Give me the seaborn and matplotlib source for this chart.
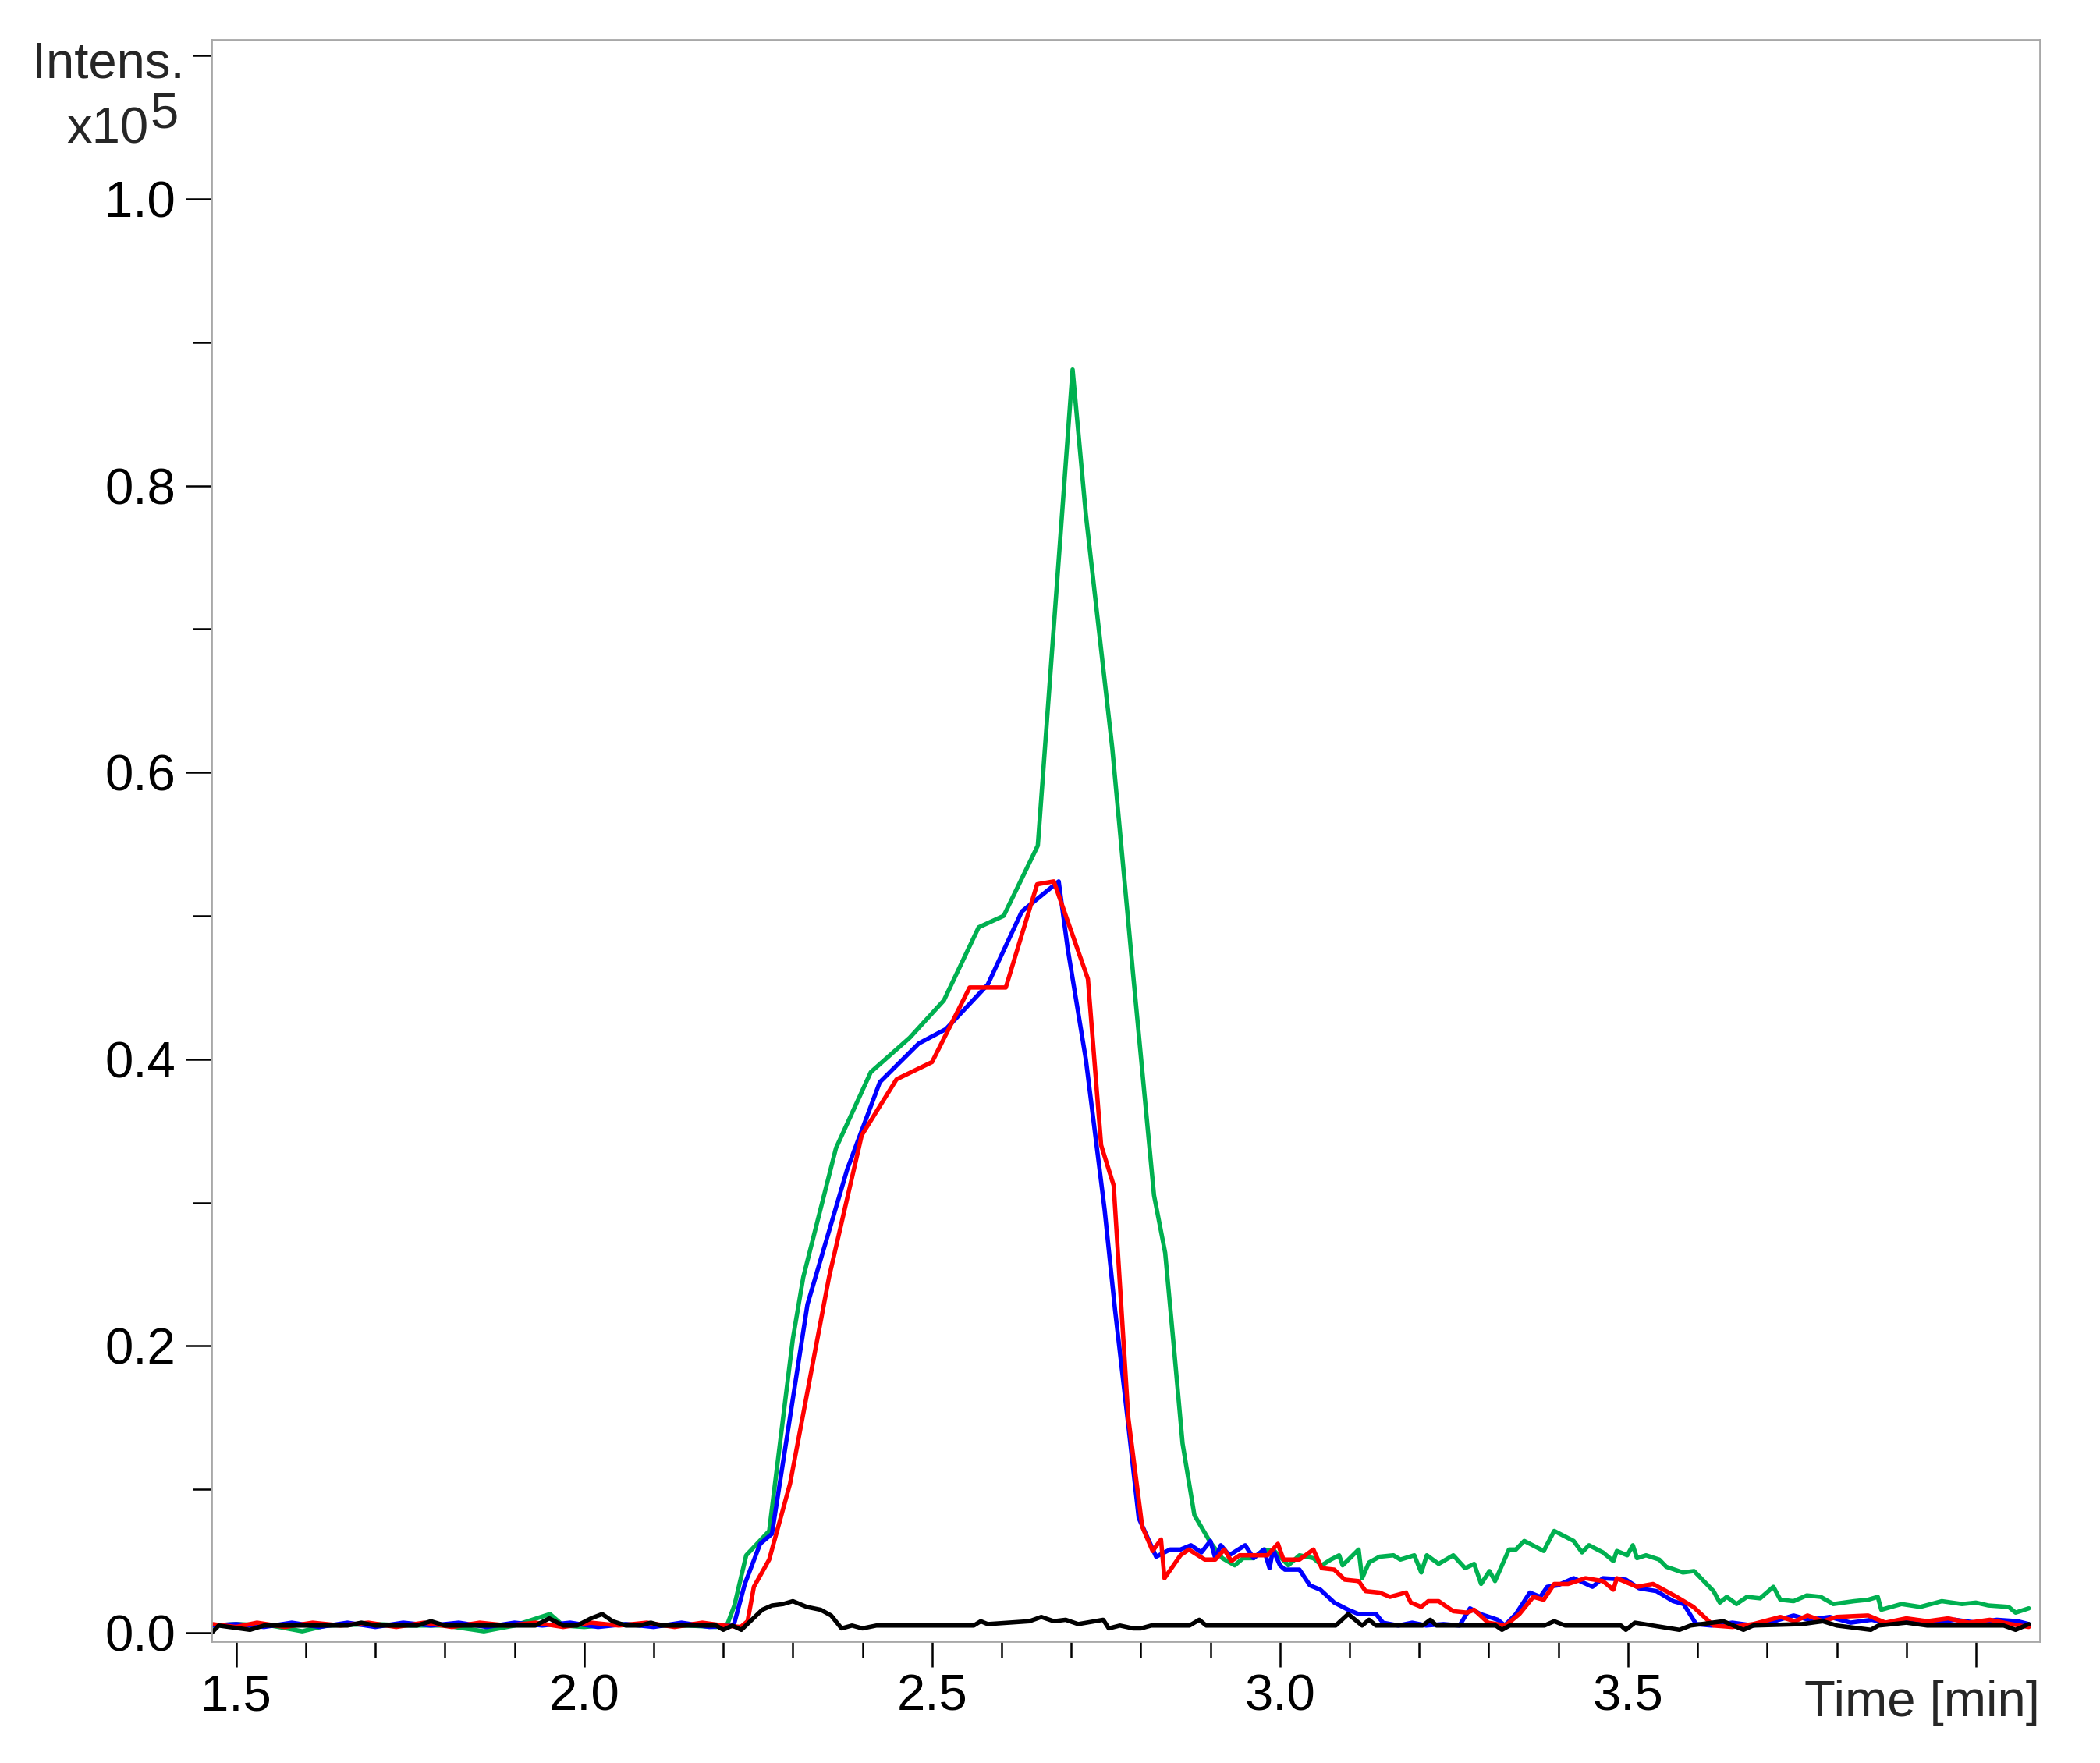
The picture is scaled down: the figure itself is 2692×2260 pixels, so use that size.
import numpy as np
import pandas as pd
import seaborn as sns
import matplotlib.pyplot as plt
from matplotlib.ticker import MultipleLocator

# Extracted ion chromatograms, intensity in units of 1e5, time in min
green_t = [1.465, 1.50, 1.55, 1.595, 1.63, 1.70, 1.75, 1.80, 1.856, 1.90, 1.951, 1.97, 2.00, 2.05, 2.10,
           2.15, 2.19, 2.206, 2.216, 2.233, 2.266, 2.300, 2.315, 2.362, 2.412, 2.468, 2.517, 2.567, 2.603,
           2.652, 2.702, 2.721, 2.759, 2.789, 2.819, 2.835, 2.847, 2.86, 2.877, 2.90, 2.917, 2.935, 2.947,
           2.962, 2.977, 2.992, 3.012, 3.028, 3.048, 3.06, 3.073, 3.085, 3.09, 3.113, 3.118, 3.128, 3.143,
           3.163, 3.173, 3.193, 3.203, 3.211, 3.228, 3.249, 3.266, 3.279, 3.289, 3.301, 3.309, 3.329, 3.339,
           3.351, 3.379, 3.394, 3.422, 3.434, 3.444, 3.464, 3.479, 3.484, 3.499, 3.507, 3.513, 3.526, 3.545,
           3.555, 3.579, 3.595, 3.623, 3.632, 3.642, 3.656, 3.671, 3.690, 3.709, 3.719, 3.738, 3.757, 3.777,
           3.795, 3.825, 3.845, 3.859, 3.864, 3.893, 3.92, 3.951, 3.98, 4.00, 4.018, 4.047, 4.057, 4.076]
green_v = [0.005, 0.006, 0.005, 0.001, 0.005, 0.006, 0.005, 0.005, 0.001, 0.005, 0.013, 0.005, 0.004, 0.006, 0.005,
           0.005, 0.004, 0.006, 0.019, 0.054, 0.071, 0.205, 0.248, 0.338, 0.391, 0.415, 0.441, 0.492, 0.500,
           0.549, 0.881, 0.780, 0.617, 0.459, 0.305, 0.265, 0.202, 0.132, 0.082, 0.063, 0.052, 0.047, 0.052,
           0.052, 0.058, 0.057, 0.047, 0.054, 0.052, 0.047, 0.051, 0.054, 0.047, 0.058, 0.038, 0.049, 0.053,
           0.054, 0.051, 0.054, 0.042, 0.054, 0.048, 0.054, 0.045, 0.048, 0.034, 0.043, 0.036, 0.058, 0.058,
           0.064, 0.057, 0.071, 0.064, 0.056, 0.061, 0.056, 0.050, 0.057, 0.054, 0.061, 0.052, 0.054, 0.051,
           0.046, 0.042, 0.043, 0.029, 0.021, 0.025, 0.020, 0.025, 0.024, 0.032, 0.023, 0.022, 0.026, 0.025,
           0.020, 0.022, 0.023, 0.025, 0.016, 0.020, 0.018, 0.022, 0.020, 0.021, 0.019, 0.018, 0.014, 0.017]

blue_t = [1.465, 1.50, 1.54, 1.58, 1.62, 1.66, 1.70, 1.74, 1.78, 1.82, 1.86, 1.90, 1.94, 1.98, 2.02, 2.06,
          2.10, 2.14, 2.18, 2.215, 2.231, 2.253, 2.270, 2.321, 2.378, 2.425, 2.481, 2.520, 2.580, 2.629,
          2.682, 2.695, 2.721, 2.748, 2.763, 2.782, 2.797, 2.822, 2.842, 2.857, 2.872, 2.887, 2.90, 2.907,
          2.915, 2.927, 2.95, 2.962, 2.977, 2.985, 2.99, 3.0, 3.007, 3.028, 3.043, 3.058, 3.078, 3.098,
          3.113, 3.138, 3.148, 3.17, 3.19, 3.21, 3.235, 3.258, 3.273, 3.288, 3.313, 3.323, 3.339, 3.359,
          3.374, 3.384, 3.399, 3.422, 3.449, 3.464, 3.497, 3.516, 3.541, 3.565, 3.580, 3.598, 3.62, 3.65,
          3.68, 3.71, 3.738, 3.76, 3.79, 3.82, 3.85, 3.88, 3.91, 3.94, 3.97, 4.00, 4.03, 4.06, 4.076]
blue_v = [0.005, 0.006, 0.004, 0.007, 0.004, 0.007, 0.004, 0.007, 0.005, 0.007, 0.004, 0.007, 0.005, 0.007, 0.004, 0.006,
          0.004, 0.007, 0.004, 0.005, 0.034, 0.062, 0.069, 0.229, 0.323, 0.384, 0.411, 0.421, 0.452, 0.503,
          0.524, 0.477, 0.400, 0.295, 0.225, 0.145, 0.080, 0.053, 0.058, 0.058, 0.061, 0.056, 0.064, 0.052,
          0.061, 0.054, 0.061, 0.052, 0.058, 0.045, 0.058, 0.047, 0.044, 0.044, 0.033, 0.030, 0.021, 0.016,
          0.013, 0.013, 0.007, 0.005, 0.007, 0.005, 0.006, 0.005, 0.017, 0.013, 0.009, 0.005, 0.013, 0.028,
          0.025, 0.032, 0.033, 0.038, 0.032, 0.038, 0.037, 0.031, 0.029, 0.022, 0.020, 0.006, 0.005, 0.007,
          0.005, 0.008, 0.012, 0.009, 0.011, 0.007, 0.009, 0.006, 0.009, 0.007, 0.009, 0.007, 0.009, 0.008, 0.006]

red_t = [1.465, 1.50, 1.53, 1.57, 1.61, 1.65, 1.69, 1.73, 1.77, 1.81, 1.85, 1.89, 1.93, 1.97, 2.01, 2.05,
         2.09, 2.13, 2.17, 2.20, 2.225, 2.235, 2.244, 2.266, 2.296, 2.352, 2.399, 2.449, 2.500, 2.554, 2.606,
         2.651, 2.675, 2.724, 2.743, 2.761, 2.782, 2.802, 2.817, 2.829, 2.834, 2.847, 2.857, 2.869, 2.892,
         2.907, 2.92, 2.93, 2.942, 2.982, 2.997, 3.005, 3.028, 3.048, 3.06, 3.078, 3.093, 3.113, 3.123,
         3.143, 3.158, 3.181, 3.188, 3.203, 3.213, 3.228, 3.249, 3.269, 3.279, 3.299, 3.324, 3.344, 3.364,
         3.379, 3.394, 3.414, 3.439, 3.464, 3.479, 3.484, 3.513, 3.536, 3.57, 3.594, 3.623, 3.65, 3.68,
         3.719, 3.74, 3.758, 3.78, 3.80, 3.845, 3.87, 3.90, 3.93, 3.96, 3.99, 4.02, 4.05, 4.076]
red_v = [0.006, 0.004, 0.007, 0.004, 0.007, 0.005, 0.007, 0.004, 0.007, 0.004, 0.007, 0.005, 0.007, 0.004, 0.007, 0.005,
         0.007, 0.004, 0.007, 0.005, 0.004, 0.008, 0.032, 0.051, 0.104, 0.248, 0.347, 0.386, 0.398, 0.450, 0.450,
         0.522, 0.524, 0.456, 0.340, 0.312, 0.150, 0.074, 0.057, 0.065, 0.038, 0.047, 0.054, 0.058, 0.051,
         0.051, 0.058, 0.050, 0.054, 0.054, 0.062, 0.051, 0.051, 0.058, 0.045, 0.044, 0.037, 0.036, 0.029,
         0.028, 0.025, 0.028, 0.021, 0.018, 0.022, 0.022, 0.015, 0.014, 0.016, 0.007, 0.005, 0.013, 0.025,
         0.023, 0.034, 0.034, 0.038, 0.036, 0.030, 0.038, 0.032, 0.034, 0.025, 0.018, 0.005, 0.004, 0.006,
         0.011, 0.008, 0.012, 0.008, 0.011, 0.012, 0.007, 0.010, 0.008, 0.010, 0.007, 0.009, 0.006, 0.004]

black_t = [1.465, 1.475, 1.52, 1.54, 1.66, 1.68, 1.70, 1.76, 1.78, 1.80, 1.93, 1.95, 1.97, 1.99, 2.01, 2.026,
           2.041, 2.06, 2.08, 2.096, 2.11, 2.19, 2.20, 2.213, 2.226, 2.256, 2.27, 2.286, 2.30, 2.32, 2.34,
           2.355, 2.37, 2.385, 2.40, 2.42, 2.56, 2.57, 2.58, 2.64, 2.657, 2.675, 2.692, 2.71, 2.746, 2.754,
           2.77, 2.789, 2.80, 2.815, 2.87, 2.884, 2.894, 3.08, 3.098, 3.118, 3.128, 3.138, 3.205, 3.216,
           3.225, 3.31, 3.319, 3.33, 3.38, 3.394, 3.41, 3.49, 3.497, 3.51, 3.574, 3.59, 3.637, 3.666, 3.68,
           3.75, 3.78, 3.80, 3.849, 3.86, 3.90, 3.93, 4.04, 4.057, 4.076]
black_v = [0.000, 0.005, 0.002, 0.005, 0.005, 0.007, 0.005, 0.005, 0.008, 0.005, 0.005, 0.010, 0.005, 0.005, 0.010, 0.013,
           0.008, 0.005, 0.005, 0.007, 0.005, 0.005, 0.002, 0.005, 0.002, 0.016, 0.019, 0.020, 0.022, 0.018, 0.016,
           0.012, 0.003, 0.005, 0.003, 0.005, 0.005, 0.008, 0.006, 0.008, 0.011, 0.008, 0.009, 0.006, 0.009, 0.003,
           0.005, 0.003, 0.003, 0.005, 0.005, 0.009, 0.005, 0.005, 0.013, 0.005, 0.009, 0.005, 0.005, 0.009,
           0.005, 0.005, 0.002, 0.005, 0.005, 0.008, 0.005, 0.005, 0.002, 0.007, 0.002, 0.005, 0.008, 0.002, 0.005,
           0.006, 0.008, 0.005, 0.002, 0.005, 0.007, 0.005, 0.005, 0.002, 0.006]

traces = ['green', 'blue', 'red', 'black']
trace_colors = ['#00B050', '#0000FF', '#FF0000', '#000000']

df = pd.concat([
    pd.DataFrame({'time': green_t, 'intensity': green_v, 'trace': 'green'}),
    pd.DataFrame({'time': blue_t, 'intensity': blue_v, 'trace': 'blue'}),
    pd.DataFrame({'time': red_t, 'intensity': red_v, 'trace': 'red'}),
    pd.DataFrame({'time': black_t, 'intensity': black_v, 'trace': 'black'}),
], ignore_index=True)

sns.set_style("ticks")
plt.rcParams['font.family'] = ['Liberation Sans', 'DejaVu Sans']

W, H = 2692, 2260
fig = plt.figure(figsize=(W / 100, H / 100), dpi=100)
ax = fig.add_axes([271 / W, 1 - 2104 / H, (2615 - 271) / W, (2104 - 51) / H])

sns.lineplot(data=df, x='time', y='intensity', hue='trace', hue_order=traces,
             palette=trace_colors, estimator=None, sort=False, linewidth=4, legend=False, ax=ax)

ax.set_xlim(1.4645, 4.092)
ax.set_ylim(-0.006, 1.111)

ax.xaxis.set_major_locator(MultipleLocator(0.5))
ax.xaxis.set_minor_locator(MultipleLocator(0.1))
ax.yaxis.set_major_locator(MultipleLocator(0.2))
ax.yaxis.set_minor_locator(MultipleLocator(0.1))
ax.set_xticks([1.5, 2.0, 2.5, 3.0, 3.5, 4.0])
ax.set_xticklabels(['1.5', '2.0', '2.5', '3.0', '3.5', ''])
ax.set_yticks([0.0, 0.2, 0.4, 0.6, 0.8, 1.0])
ax.set_yticklabels(['0.0', '0.2', '0.4', '0.6', '0.8', '1.0'])

ax.tick_params(axis='both', which='major', direction='out', length=24, width=1.8,
               color='black', labelsize=47, labelcolor='black')
ax.tick_params(axis='x', which='major', pad=6)
ax.tick_params(axis='y', which='major', pad=9)
ax.tick_params(axis='x', which='minor', direction='out', length=15, width=1.8, color='black')
ax.tick_params(axis='y', which='minor', direction='out', length=17, width=1.8, color='black')

for side in ['left', 'right', 'top', 'bottom']:
    ax.spines[side].set_color('#a8a8a8')
    ax.spines[side].set_linewidth(2)
ax.set_xlabel('')
ax.set_ylabel('')

fig.text(237 / W, 1 - 99 / H, 'Intens.', ha='right', va='baseline', fontsize=47)
fig.text(190 / W, 1 - 183 / H, 'x10', ha='right', va='baseline', fontsize=47)
fig.text(192 / W, 1 - 163 / H, '5', ha='left', va='baseline', fontsize=47)
fig.text(2615 / W, 1 - 2200 / H, 'Time [min]', ha='right', va='baseline', fontsize=47)

fig.savefig('out.png', dpi=100, facecolor='white')
